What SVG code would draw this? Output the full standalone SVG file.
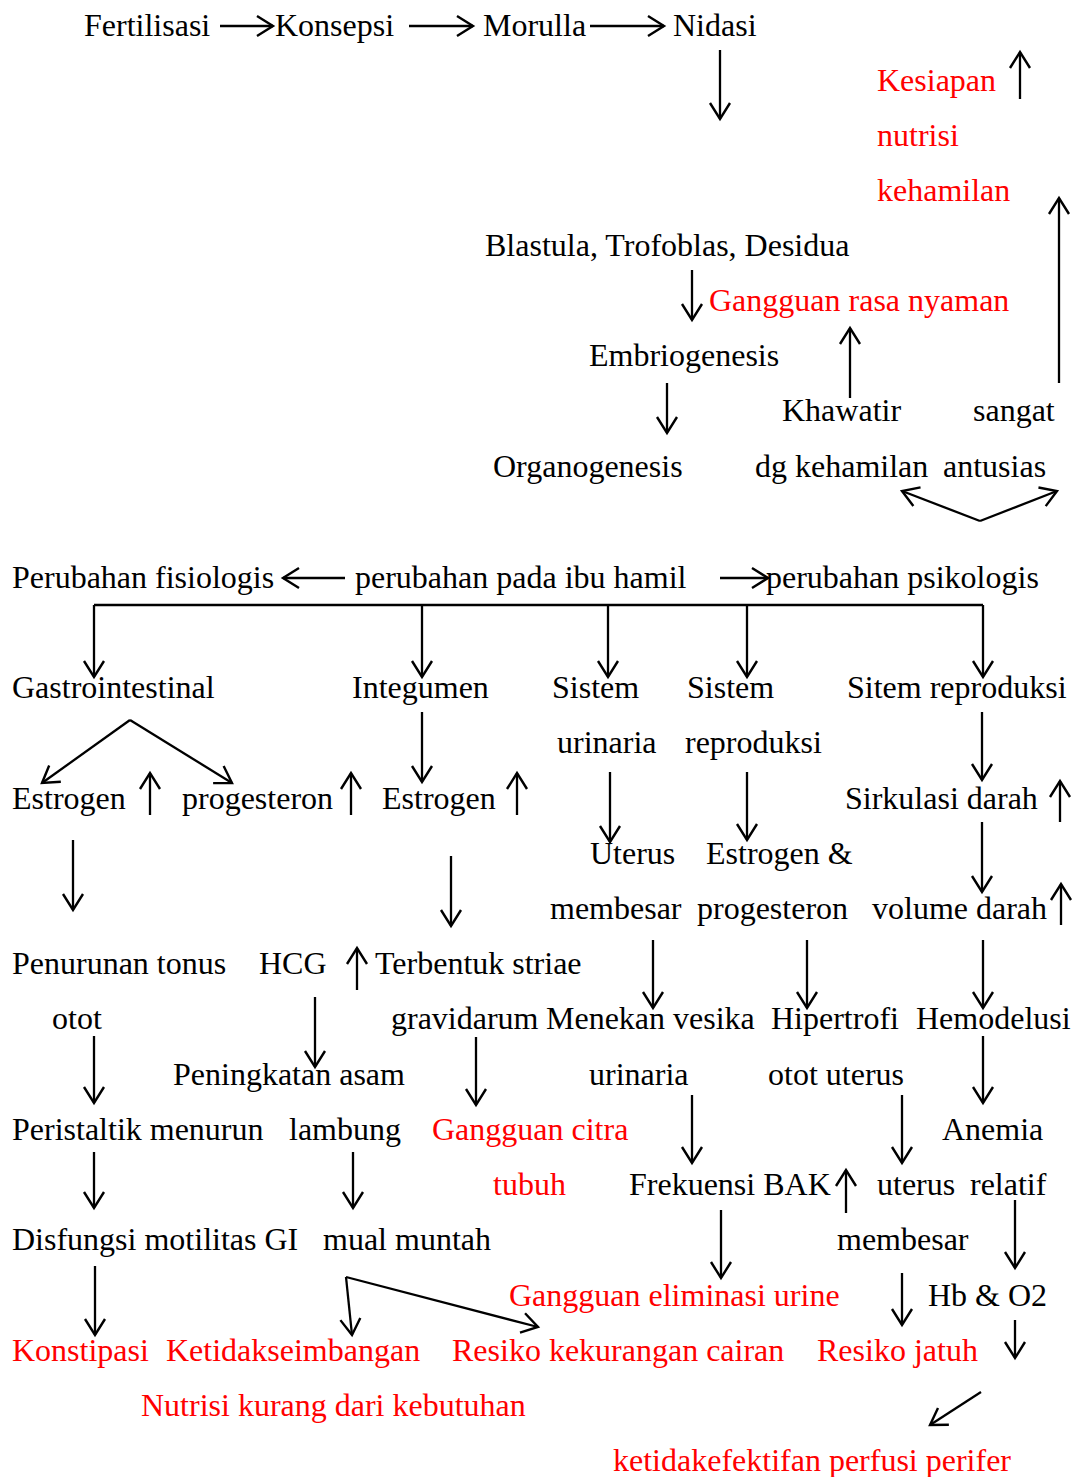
<svg xmlns="http://www.w3.org/2000/svg" width="1076" height="1477" viewBox="0 0 1076 1477">
<style>
text{font-family:"Liberation Serif","Times New Roman",serif;font-size:32px;fill:#000}
.r{fill:#ff0000}
.c{stroke:#000;stroke-width:2.3;fill:none;marker-end:url(#ah)}
.l{stroke:#000;stroke-width:2.3;fill:none}
</style>
<defs>
<marker id="ah" markerUnits="userSpaceOnUse" markerWidth="30" markerHeight="30" viewBox="-15 -15 30 30" refX="0" refY="0" orient="auto" overflow="visible">
<path d="M-16,-10 L0,0 L-16,10" fill="none" stroke="#000" stroke-width="2.4"/>
</marker>
</defs>
<rect width="1076" height="1477" fill="#fff"/>
<g id="n-fertilisasi"><text x="84" y="36">Fertilisasi</text></g>
<g id="n-konsepsi"><text x="275" y="36">Konsepsi</text></g>
<g id="n-morulla"><text x="483" y="36">Morulla</text></g>
<g id="n-nidasi"><text x="673" y="36">Nidasi</text></g>
<g id="n-kesiapan"><text class="r"><tspan x="877" y="91">Kesiapan</tspan><tspan x="877" y="146">nutrisi</tspan><tspan x="877" y="201">kehamilan</tspan></text><path class="c" d="M1020,99 V52"/></g>
<g id="n-blastula"><text x="485" y="256">Blastula, Trofoblas, Desidua</text></g>
<g id="n-rasa-nyaman"><text class="r" x="709" y="311">Gangguan rasa nyaman</text></g>
<g id="n-embriogenesis"><text x="589" y="366">Embriogenesis</text></g>
<g id="n-organogenesis"><text x="493" y="477">Organogenesis</text></g>
<g id="n-khawatir"><text><tspan x="782" y="421">Khawatir</tspan><tspan x="755" y="477">dg kehamilan</tspan></text></g>
<g id="n-antusias"><text><tspan x="973" y="421">sangat</tspan><tspan x="943" y="477">antusias</tspan></text></g>
<g id="n-fisiologis"><text x="12" y="588">Perubahan fisiologis</text></g>
<g id="n-ibu-hamil"><text x="355" y="588">perubahan pada ibu hamil</text></g>
<g id="n-psikologis"><text x="766" y="588">perubahan psikologis</text></g>
<g id="n-gastro"><text x="12" y="698">Gastrointestinal</text></g>
<g id="n-integumen"><text x="352" y="698">Integumen</text></g>
<g id="n-urinaria"><text><tspan x="552" y="698">Sistem</tspan><tspan x="557" y="753">urinaria</tspan></text></g>
<g id="n-sis-repro"><text><tspan x="687" y="698">Sistem</tspan><tspan x="685" y="753">reproduksi</tspan></text></g>
<g id="n-sitem-repro"><text x="847" y="698">Sitem reproduksi</text></g>
<g id="n-estrogen1"><text x="12" y="809">Estrogen</text><path class="c" d="M150,815 V773"/></g>
<g id="n-progesteron1"><text x="182" y="809">progesteron</text><path class="c" d="M351,815 V773"/></g>
<g id="n-estrogen2"><text x="382" y="809">Estrogen</text><path class="c" d="M517,815 V773"/></g>
<g id="n-sirkulasi"><text x="845" y="809">Sirkulasi darah</text><path class="c" d="M1060,822 V781"/></g>
<g id="n-uterus"><text><tspan x="590" y="864">Uterus</tspan><tspan x="550" y="919">membesar</tspan></text></g>
<g id="n-estprog"><text><tspan x="706" y="864">Estrogen &amp;</tspan><tspan x="697" y="919">progesteron</tspan></text></g>
<g id="n-volume"><text x="872" y="919">volume darah</text><path class="c" d="M1061,925 V884"/></g>
<g id="n-penurunan"><text><tspan x="12" y="974">Penurunan tonus</tspan><tspan x="52" y="1029">otot</tspan></text></g>
<g id="n-hcg"><text x="259" y="974">HCG</text><path class="c" d="M357,990 V948"/></g>
<g id="n-striae"><text><tspan x="375" y="974">Terbentuk striae</tspan><tspan x="391" y="1029">gravidarum</tspan></text></g>
<g id="n-menekan"><text><tspan x="546" y="1029">Menekan vesika</tspan><tspan x="589" y="1085">urinaria</tspan></text></g>
<g id="n-hipertrofi"><text><tspan x="771" y="1029">Hipertrofi</tspan><tspan x="768" y="1085">otot uterus</tspan></text></g>
<g id="n-hemodelusi"><text x="916" y="1029">Hemodelusi</text></g>
<g id="n-asam"><text><tspan x="173" y="1085">Peningkatan asam</tspan><tspan x="289" y="1140">lambung</tspan></text></g>
<g id="n-peristaltik"><text x="12" y="1140">Peristaltik menurun</text></g>
<g id="n-citra"><text class="r"><tspan x="432" y="1140">Gangguan citra</tspan><tspan x="493" y="1195">tubuh</tspan></text></g>
<g id="n-anemia"><text><tspan x="942" y="1140">Anemia</tspan><tspan x="970" y="1195">relatif</tspan></text></g>
<g id="n-frekuensi"><text x="629" y="1195">Frekuensi BAK</text><path class="c" d="M846,1213 V1170"/></g>
<g id="n-ut-membesar"><text><tspan x="877" y="1195">uterus</tspan><tspan x="837" y="1250">membesar</tspan></text></g>
<g id="n-disfungsi"><text x="12" y="1250">Disfungsi motilitas GI</text></g>
<g id="n-mual"><text x="323" y="1250">mual muntah</text></g>
<g id="n-eliminasi"><text class="r" x="509" y="1306">Gangguan eliminasi urine</text></g>
<g id="n-hb"><text x="928" y="1306">Hb &amp; O2</text><path class="c" d="M1015,1320 V1358"/></g>
<g id="n-konstipasi"><text class="r" x="12" y="1361">Konstipasi</text></g>
<g id="n-nutrisi"><text class="r"><tspan x="166" y="1361">Ketidakseimbangan</tspan><tspan x="141" y="1416">Nutrisi kurang dari kebutuhan</tspan></text></g>
<g id="n-cairan"><text class="r" x="452" y="1361">Resiko kekurangan cairan</text></g>
<g id="n-jatuh"><text class="r" x="817" y="1361">Resiko jatuh</text></g>
<g id="n-perfusi"><text class="r" x="613" y="1471">ketidakefektifan perfusi perifer</text></g>
<g id="connectors">
<path class="c" d="M220,26 H273"/>
<path class="c" d="M409,26 H473"/>
<path class="c" d="M590,26 H664"/>
<path class="c" d="M720,50 V119"/>
<path class="c" d="M692,270 V320"/>
<path class="c" d="M667,383 V433"/>
<path class="c" d="M850,398 V328"/>
<path class="c" d="M1059,383 V198"/>
<path class="c" d="M980,521 L902,491"/>
<path class="c" d="M980,521 L1057,491"/>
<path class="c" d="M345,578 H283"/>
<path class="c" d="M720,578 H768"/>
<path class="l" d="M94,605 H983"/>
<path class="c" d="M94,605 V677"/>
<path class="c" d="M422,605 V677"/>
<path class="c" d="M608,605 V677"/>
<path class="c" d="M747,605 V677"/>
<path class="c" d="M983,605 V677"/>
<path class="c" d="M130,720 L42,783"/>
<path class="c" d="M130,720 L232,783"/>
<path class="c" d="M422,712 V782"/>
<path class="c" d="M982,712 V780"/>
<path class="c" d="M610,772 V842"/>
<path class="c" d="M747,772 V840"/>
<path class="c" d="M73,840 V910"/>
<path class="c" d="M451,856 V926"/>
<path class="c" d="M982,822 V892"/>
<path class="c" d="M653,940 V1008"/>
<path class="c" d="M807,940 V1008"/>
<path class="c" d="M983,940 V1008"/>
<path class="c" d="M315,997 V1067"/>
<path class="c" d="M94,1036 V1103"/>
<path class="c" d="M476,1037 V1105"/>
<path class="c" d="M983,1036 V1103"/>
<path class="c" d="M692,1095 V1163"/>
<path class="c" d="M902,1095 V1163"/>
<path class="c" d="M94,1152 V1208"/>
<path class="c" d="M353,1152 V1208"/>
<path class="c" d="M1015,1200 V1268"/>
<path class="c" d="M721,1210 V1278"/>
<path class="c" d="M95,1266 V1335"/>
<path class="c" d="M346,1277 L352,1335"/>
<path class="c" d="M346,1277 L538,1327"/>
<path class="c" d="M902,1273 V1325"/>
<path class="c" d="M981,1392 L930,1425"/>
</g>
</svg>
